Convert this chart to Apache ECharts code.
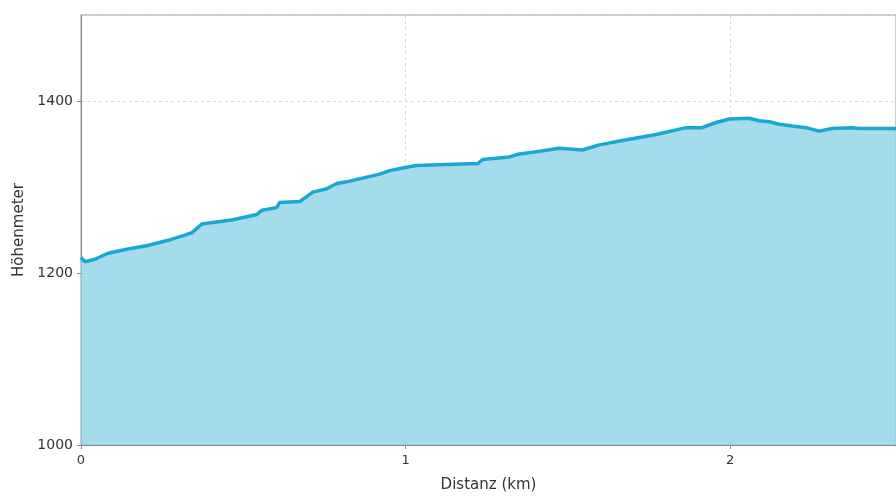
<!DOCTYPE html>
<html>
<head>
<meta charset="utf-8">
<script src="https://cdn.jsdelivr.net/npm/echarts@6/dist/echarts.min.js"></script>
<style>
html,body{margin:0;padding:0;background:#fff;}
#chart{width:896px;height:498px;}
</style>
</head>
<body>
<div id="chart"></div>
<script>
// Distance along the route (km)
const distanceKm = [0.000, 0.012, 0.043, 0.083, 0.145, 0.206, 0.268, 0.320, 0.342, 0.372,
  0.412, 0.468, 0.542, 0.557, 0.603, 0.612, 0.674, 0.714, 0.757, 0.788,
  0.818, 0.920, 0.951, 1.003, 1.034, 1.197, 1.222, 1.237, 1.320, 1.345,
  1.403, 1.474, 1.545, 1.597, 1.668, 1.772, 1.865, 1.914, 1.957, 1.997,
  2.058, 2.089, 2.120, 2.151, 2.191, 2.234, 2.274, 2.314, 2.375, 2.397, 2.511];
// Elevation (m)
const elevationM = [1218, 1213, 1216, 1223, 1228, 1232, 1238, 1244, 1247, 1257,
  1259, 1262, 1268, 1273, 1276, 1282, 1283, 1294, 1298, 1304,
  1306, 1315, 1319, 1323, 1325, 1327, 1327, 1332, 1335, 1338,
  1341, 1345, 1343, 1349, 1354, 1361, 1369, 1369, 1375, 1379,
  1380, 1377, 1376, 1373, 1371, 1369, 1365, 1368, 1369, 1368, 1368];
const xTicks = [0, 1, 2];
const yTicks = [1000, 1200, 1400];
const xAxisTitle = 'Distanz (km)';
const yAxisTitle = 'Höhenmeter';

const chart = echarts.init(document.getElementById('chart'), null, {renderer: 'canvas'});
const seriesData = distanceKm.map((d, i) => [d, elevationM[i]]);
const textColor = '#333';
const font = 'DejaVu Sans';

chart.setOption({
  animation: false,
  backgroundColor: '#fff',
  grid: {
    left: 81, right: -2, top: 15, bottom: 51,
    show: true, borderColor: '#999', borderWidth: 1, backgroundColor: 'transparent'
  },
  xAxis: {
    type: 'value',
    min: 0, max: 2.511, interval: 1,
    name: xAxisTitle,
    nameLocation: 'middle',
    nameGap: 33,
    nameTextStyle: {color: textColor, fontFamily: font, fontSize: 15},
    axisLine: {show: true, lineStyle: {color: '#888', width: 1}},
    axisTick: {show: true, length: 4, lineStyle: {color: '#888'}},
    axisLabel: {
      color: textColor, fontFamily: font, fontSize: 13, margin: 9,
      showMaxLabel: false,
      formatter: v => xTicks.includes(v) ? String(v) : ''
    },
    splitLine: {show: true, lineStyle: {color: '#d8d8d8', type: [3, 3], width: 1}}
  },
  yAxis: {
    type: 'value',
    min: 1000, max: 1500, interval: 200,
    name: yAxisTitle,
    nameLocation: 'middle',
    nameGap: 53,
    nameRotate: 90,
    nameTextStyle: {color: textColor, fontFamily: font, fontSize: 15},
    axisLine: {show: true, lineStyle: {color: '#888', width: 1}},
    axisTick: {show: true, length: 4, lineStyle: {color: '#888'}},
    axisLabel: {
      color: textColor, fontFamily: font, fontSize: 14, margin: 8,
      showMaxLabel: false,
      formatter: v => yTicks.includes(v) ? String(v) : ''
    },
    splitLine: {show: true, lineStyle: {color: '#d8d8d8', type: [3, 3], width: 1}}
  },
  series: [{
    type: 'line',
    data: seriesData,
    symbol: 'none',
    smooth: false,
    clip: true,
    lineStyle: {color: '#1aa7d3', width: 3.5},
    areaStyle: {color: 'rgba(141,211,231,0.8)', opacity: 1, origin: 'start'},
    z: 2
  }]
});
</script>
</body>
</html>
